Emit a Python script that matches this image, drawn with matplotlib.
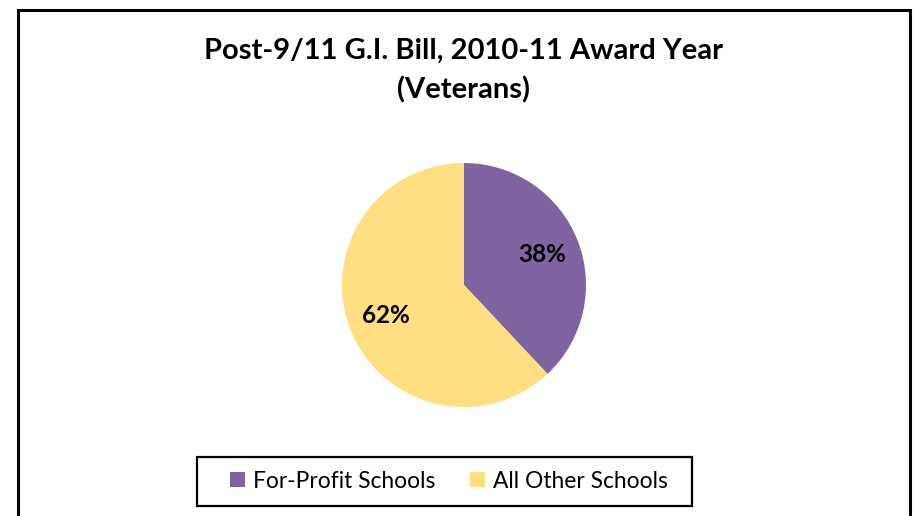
import matplotlib
matplotlib.use("Agg")
import matplotlib.pyplot as plt
from matplotlib.patches import Rectangle

labels = ["For-Profit Schools", "All Other Schools"]
shares = [38, 62]
colors = ["#8064A2", "#FFDF82"]
title = "Post-9/11 G.I. Bill, 2010-11 Award Year\n(Veterans)"

plt.rcParams['font.family'] = ['Lato', 'DejaVu Sans']

W, H = 916, 516
fig = plt.figure(figsize=(W / 100, H / 100), dpi=100)

# outer chart frame (bottom edge runs off the image)
fig.patches.append(Rectangle((18 / W, -0.05), (910 - 18) / W, 1.05 - 10 / H,
                             transform=fig.transFigure, fill=False,
                             edgecolor="black", linewidth=2.2))

fig.text(464 / W, 1 - 71 / H, title, ha="center", va="center",
         fontsize=21, fontweight="bold", linespacing=1.55)

cx, cy, r = 464, 285, 122
ax = fig.add_axes([(cx - r) / W, (H - cy - r) / H, 2 * r / W, 2 * r / H])
wedges, texts, autotexts = ax.pie(shares, colors=colors, startangle=90,
                                  counterclock=False, autopct="%d%%",
                                  pctdistance=0.69,
                                  textprops=dict(fontsize=17.5, fontweight="bold"))
ax.set_xlim(-1, 1)
ax.set_ylim(-1, 1)
ax.axis("off")

# legend box drawn separately, Excel pads it widely
fig.patches.append(Rectangle((197 / W, 1 - 506 / H), (692 - 197) / W, 49 / H,
                             transform=fig.transFigure, fill=False,
                             edgecolor="black", linewidth=1.6))
fig.legend(wedges, labels, loc="center", bbox_to_anchor=(449 / W, 1 - 481 / H),
           ncol=2, frameon=False, fontsize=16.4,
           handlelength=0.62, handleheight=0.62, handletextpad=0.36,
           columnspacing=1.55, borderpad=0, borderaxespad=0)

fig.savefig("out.png", dpi=100)
